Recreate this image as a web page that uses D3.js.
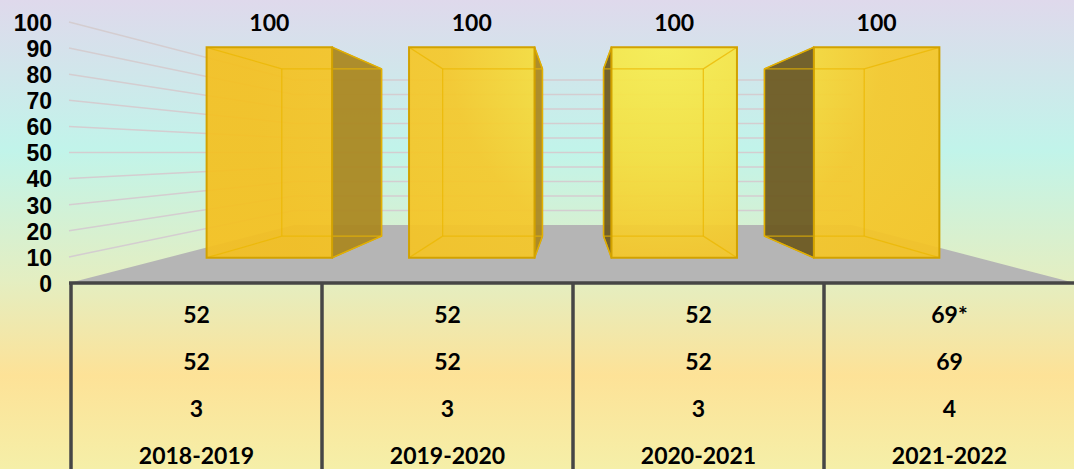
<!DOCTYPE html>
<meta charset="utf-8">
<style>
body { margin: 0; overflow: hidden; }
svg { display: block; font-family: "Lato", "DejaVu Sans", sans-serif; font-weight: bold; }
.grid line { stroke: #d4cdd0; stroke-width: 1.5px; }
.axis text { font-size: 23px; fill: #000; }
.cell { font-size: 23px; fill: #000; text-anchor: middle; }
.table line { stroke: #464646; stroke-width: 3.5px; }
</style>
<svg width="1074" height="469"></svg>
<script src="https://cdn.jsdelivr.net/npm/d3@7/dist/d3.min.js"></script>
<script>

// data
var categories = ["2018-2019", "2019-2020", "2020-2021", "2021-2022"];
var barValues = [100, 100, 100, 100];
var rowA = ["52", "52", "52", "69*"];
var rowB = ["52", "52", "52", "69"];
var rowC = ["3", "3", "3", "4"];
var yTicks = [0, 10, 20, 30, 40, 50, 60, 70, 80, 90, 100];

var svg = d3.select("svg"),
    width = +svg.attr("width"),
    height = +svg.attr("height");

// front plane scales
var x = d3.scaleBand()
    .domain(categories)
    .range([71, 1075])
    .paddingInner(0.38)
    .paddingOuter(0.19);

var y = d3.scaleLinear()
    .domain([0, 100])
    .range([283, 22]);

// perspective: vanishing point in the middle of the front plane
var vx = (x.range()[0] + x.range()[1]) / 2,
    vy = (y(0) + y(100)) / 2,
    depthK = 0.8,
    barZ0 = 0.3,
    barZ1 = 0.7;

function proj(px, py, z) {
    var s = 1 / (1 + depthK * z);
    return [vx + (px - vx) * s, vy + (py - vy) * s];
}

var defs = svg.append("defs");

var bg = defs.append("linearGradient")
    .attr("id", "bg").attr("x1", 0).attr("y1", 0).attr("x2", 0).attr("y2", 1);
[["0", "#dfd9ec"], ["0.32", "#c1f4ea"], ["0.6", "#e4eec1"], ["0.8", "#fde297"], ["1", "#f5efa8"]]
    .forEach(function(s) { bg.append("stop").attr("offset", s[0]).attr("stop-color", s[1]); });

var gold = defs.append("radialGradient")
    .attr("id", "gold")
    .attr("gradientUnits", "userSpaceOnUse")
    .attr("cx", 665).attr("cy", 40).attr("r", 420);
[["0", "#f7ef52"], ["0.28", "#f5df3e"], ["0.52", "#f5c82a"], ["1", "#f4c020"]]
    .forEach(function(s) { gold.append("stop").attr("offset", s[0]).attr("stop-color", s[1]); });

svg.append("rect")
    .attr("width", width)
    .attr("height", height)
    .attr("fill", "url(#bg)");

// gridlines on the left wall and back wall
var x0 = x.range()[0], x1 = x.range()[1];
var grid = svg.append("g").attr("class", "grid");

grid.selectAll(".side")
    .data(yTicks.filter(function(d) { return d > 0; }))
    .enter().append("line")
    .attr("x1", x0 - 2)
    .attr("y1", function(d) { return y(d); })
    .attr("x2", function(d) { return proj(x0, y(d), 1)[0]; })
    .attr("y2", function(d) { return proj(x0, y(d), 1)[1]; });

grid.selectAll(".back")
    .data(yTicks.filter(function(d) { return d > 0; }))
    .enter().append("line")
    .attr("x1", function(d) { return proj(x0, y(d), 1)[0]; })
    .attr("y1", function(d) { return proj(x0, y(d), 1)[1]; })
    .attr("x2", function(d) { return proj(x1, y(d), 1)[0]; })
    .attr("y2", function(d) { return proj(x1, y(d), 1)[1]; });

// floor
var floor = [[x0 - 2, y(0)], proj(x0, y(0), 1), proj(x1, y(0), 1), [x1, y(0)]];
svg.append("polygon")
    .attr("points", floor.map(function(p) { return p.join(","); }).join(" "))
    .attr("fill", "#b5b5b5");

// y axis
var axis = svg.append("g")
    .attr("class", "axis")
    .attr("transform", "translate(52,1)")
    .call(d3.axisLeft(y).tickValues(yTicks).tickSize(0).tickPadding(0));
axis.select(".domain").remove();
axis.selectAll("text").attr("font-family", null).attr("font-size", null);

// 3d bars
var bars = svg.append("g").selectAll("g")
    .data(categories)
    .enter().append("g");

bars.each(function(c, i) {
    var g = d3.select(this),
        bx0 = x(c),
        bx1 = x(c) + x.bandwidth(),
        top = y(barValues[i]),
        bot = y(0);

    var f = {
        tl: proj(bx0, top, barZ0), tr: proj(bx1, top, barZ0),
        bl: proj(bx0, bot, barZ0), br: proj(bx1, bot, barZ0)
    };
    var b = {
        tl: proj(bx0, top, barZ1), tr: proj(bx1, top, barZ1),
        bl: proj(bx0, bot, barZ1), br: proj(bx1, bot, barZ1)
    };

    function poly(pts) { return pts.map(function(p) { return p.join(","); }).join(" "); }

    var rightSide = (bx0 + bx1) / 2 < vx;
    var side = rightSide ? [f.tr, b.tr, b.br, f.br] : [f.tl, b.tl, b.bl, f.bl];

    g.append("polygon")
        .attr("points", poly(side))
        .attr("fill", rightSide ? "#ab8822" : "#6e5b23")
        .attr("fill-opacity", 0.95)
        .attr("stroke", "#c99c08")
        .attr("stroke-width", 1.5)
        .attr("stroke-linejoin", "round");

    g.append("polygon")
        .attr("points", poly([f.tl, f.tr, f.br, f.bl]))
        .attr("fill", "url(#gold)")
        .attr("fill-opacity", 0.93);

    // edges seen through the translucent front
    var inner = [[b.tl, b.tr], [b.tr, b.br], [b.br, b.bl], [b.bl, b.tl],
                 [f.tl, b.tl], [f.tr, b.tr], [f.bl, b.bl], [f.br, b.br]];
    g.selectAll(".edge")
        .data(inner)
        .enter().append("line")
        .attr("x1", function(d) { return d[0][0]; })
        .attr("y1", function(d) { return d[0][1]; })
        .attr("x2", function(d) { return d[1][0]; })
        .attr("y2", function(d) { return d[1][1]; })
        .attr("stroke", "#ebb700")
        .attr("stroke-opacity", 0.75)
        .attr("stroke-width", 1.3);

    g.append("polygon")
        .attr("points", poly([f.tl, f.tr, f.br, f.bl]))
        .attr("fill", "none")
        .attr("stroke", "#d2a200")
        .attr("stroke-width", 2);

    g.append("text")
        .attr("class", "cell")
        .attr("x", (f.tl[0] + f.tr[0]) / 2)
        .attr("y", f.tl[1] - 16)
        .text(barValues[i]);
});

// data table under the floor
var table = svg.append("g").attr("class", "table");

table.append("line")
    .attr("x1", x0 - 2).attr("x2", width)
    .attr("y1", y(0)).attr("y2", y(0));

table.selectAll(".vline")
    .data(categories)
    .enter().append("line")
    .attr("x1", function(d) { return x(d) - x.step() * 0.19; })
    .attr("x2", function(d) { return x(d) - x.step() * 0.19; })
    .attr("y1", y(0))
    .attr("y2", height);

var rows = [rowA, rowB, rowC, categories];
var rowY = d3.scaleBand().domain(d3.range(rows.length)).range([y(0), height + 1]);

rows.forEach(function(row, r) {
    table.selectAll(".r" + r)
        .data(row)
        .enter().append("text")
        .attr("class", "cell")
        .attr("x", function(d, i) { return x(categories[i]) + x.bandwidth() / 2; })
        .attr("y", rowY(r) + rowY.bandwidth() / 2 + 17)
        .text(function(d) { return d; });
});

</script>
